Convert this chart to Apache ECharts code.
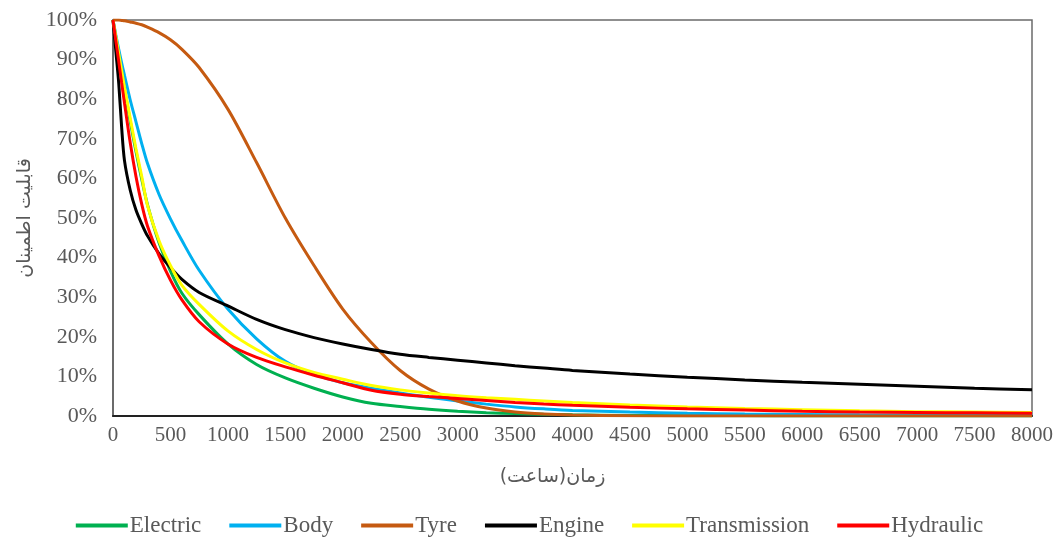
<!DOCTYPE html>
<html>
<head>
<meta charset="utf-8">
<script src="https://cdn.jsdelivr.net/npm/echarts@6/dist/echarts.min.js"></script>
<style>html,body{margin:0;padding:0;background:#fff;}#c{width:1059px;height:538px;}</style>
</head>
<body>
<div id="c"></div>
<script>
const hours = [0,25,50,75,100,150,200,250,300,400,500,600,750,1000,1250,1500,1750,2000,2250,2500,2750,3000,3250,3500,3750,4000,4500,5000,5500,6000,6500,7000,7500,8000];
const electric = [100,95.5,91,86.7,82.5,74.4,66.8,59.8,53.4,43.8,36.6,31,25.6,18.2,13,9.6,7,4.8,3.2,2.4,1.7,1.2,0.85,0.6,0.42,0.3,0.15,0.08,0.04,0.02,0.01,0.01,0,0];
const body = [100,96.2,92.6,89.2,86,79.8,74.3,68.8,63.8,56,49.8,44.3,36.8,27,19.5,13.8,10.5,8.4,7.0,5.8,4.7,3.8,3.0,2.3,1.8,1.4,1.0,0.7,0.5,0.4,0.3,0.25,0.2,0.15];
const tyre = [100,100,100,99.9,99.8,99.5,99.2,98.8,98.2,96.8,95,92.6,88,77.5,64,50,38,27,18.5,11.5,6.8,3.8,2.0,1.0,0.5,0.25,0.05,0,0,0,0,0,0,0];
const engine = [100,92,84,73,64.5,57,52,48.5,45.5,41,37.5,34.5,31.2,27.8,24.4,21.8,19.8,18.2,16.8,15.6,14.8,14.1,13.4,12.7,12.1,11.5,10.6,9.8,9.1,8.5,8.0,7.5,7.0,6.6];
const transmission = [100,95.8,91.5,87.2,83,75.2,67.5,60.5,53.2,44.3,38,33,28.2,21.5,16.8,13.4,11,9.3,7.7,6.6,5.8,5.1,4.6,4.2,3.8,3.4,2.8,2.3,1.9,1.6,1.3,1.1,1.0,0.9];
const hydraulic = [100,94.7,89.5,84.2,79,69,60.5,53.5,48,40.5,34.3,29.3,23.8,18.2,14.8,12.4,10.3,8.4,6.5,5.5,4.9,4.4,3.9,3.4,3.0,2.7,2.2,1.8,1.5,1.2,1.0,0.9,0.8,0.7];
const seriesNames = ['Electric','Body','Tyre','Engine','Transmission','Hydraulic'];
const seriesColors = ['#00B050','#00B0F0','#C55A11','#000000','#FFFF00','#FF0000'];
const seriesData = [electric, body, tyre, engine, transmission, hydraulic];
const yAxisTitle = 'قابلیت اطمینان';
const xAxisTitle = 'زمان(ساعت)';

const chart = echarts.init(document.getElementById('c'));
const font = '"Liberation Serif", "Times New Roman", serif';
chart.setOption({
  animation: false,
  backgroundColor: '#fff',
  textStyle: { fontFamily: font },
  grid: { left: 113, right: 27, top: 20, bottom: 122, show: true, borderColor: '#6b6b6b', borderWidth: 1.5, backgroundColor: 'transparent' },
  legend: {
    top: 509, left: 'center',
    itemWidth: 52, itemHeight: 4, itemGap: 28,
    icon: 'rect',
    textStyle: { fontFamily: font, fontSize: 23, color: '#595959', padding: [0,0,0,-3] },
    data: seriesNames
  },
  xAxis: {
    type: 'value', min: 0, max: 8000, interval: 500,
    axisLine: { show: true, onZero: false, lineStyle: { color: '#222', width: 2 } },
    axisTick: { show: false },
    splitLine: { show: false },
    axisLabel: { fontFamily: font, fontSize: 21, color: '#595959', margin: 9, formatter: v => String(v) },
    name: xAxisTitle, nameLocation: 'middle', nameGap: 52,
    nameTextStyle: { fontFamily: '"DejaVu Sans", sans-serif', fontSize: 19, color: '#595959', padding: [0, 40, 0, 0] }
  },
  yAxis: {
    type: 'value', min: 0, max: 100, interval: 10,
    axisLine: { show: true, lineStyle: { color: '#6b6b6b', width: 2 } },
    axisTick: { show: false },
    splitLine: { show: false },
    axisLabel: { fontFamily: font, fontSize: 22, color: '#595959', margin: 16, formatter: '{value}%' },
    name: yAxisTitle, nameLocation: 'middle', nameGap: 77, nameRotate: 90,
    nameTextStyle: { fontFamily: '"DejaVu Sans", sans-serif', fontSize: 19, color: '#595959' }
  },
  series: seriesNames.map((n, i) => ({
    name: n, type: 'line', smooth: 0.3, symbol: 'none',
    data: hours.map((h, j) => [h, seriesData[i][j]]),
    lineStyle: { color: seriesColors[i], width: 3 },
    itemStyle: { color: seriesColors[i] }
  }))
});
</script>
</body>
</html>
